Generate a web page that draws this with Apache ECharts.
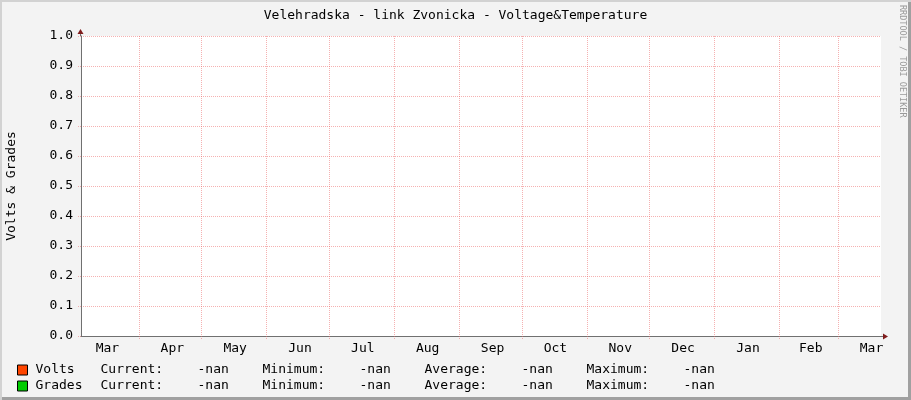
<!DOCTYPE html>
<html><head><meta charset="utf-8">
<script src="https://cdn.jsdelivr.net/npm/echarts@6/dist/echarts.min.js"></script>
<style>
html,body{margin:0;padding:0;background:#f3f3f3}
#c{width:911px;height:400px;background:#f3f3f3;box-shadow:inset 2px 2px 0 #d2d2d2, inset -3px -3px 0 #a0a0a0;}
</style></head><body><div id="c"></div>
<script>
const chartTitle = 'Velehradska - link Zvonicka - Voltage&Temperature';
const yAxisTitle = 'Volts & Grades';
const watermark = 'RRDTOOL / TOBI OETIKER';
const seriesNames = ['Volts', 'Grades'];
const seriesColors = ['#ff4500', '#00cc00'];
const volts = [];   // no data (-nan)
const grades = [];  // no data (-nan)
const statLabels = ['Current:', 'Minimum:', 'Average:', 'Maximum:'];
const voltsStats = ['-nan', '-nan', '-nan', '-nan'];
const gradesStats = ['-nan', '-nan', '-nan', '-nan'];
const yMin = 0, yMax = 1, yStep = 0.1;
const xStart = '2022-03-04T08:00:00Z';
const xEnd = '2023-03-21T12:00:00Z';
const monthBoundaries = ['2022-04-01','2022-05-01','2022-06-01','2022-07-01','2022-08-01','2022-09-01',
  '2022-10-01','2022-11-01','2022-12-01','2023-01-01','2023-02-01','2023-03-01'];
const monthLabels = ['Mar','Apr','May','Jun','Jul','Aug','Sep','Oct','Nov','Dec','Jan','Feb','Mar'];
const monthLabelDates = ['2022-03-16','2022-04-16','2022-05-16','2022-06-16','2022-07-16','2022-08-16',
  '2022-09-16','2022-10-16','2022-11-16','2022-12-16','2023-01-16','2023-02-15','2023-03-16'];

const ts = d => Date.parse(d.length === 10 ? d + 'T00:00:00Z' : d);
const boundaryTs = monthBoundaries.map(ts);
const labelTs = monthLabelDates.map(ts);
const FONT = 'DejaVu Sans Mono';
const gridColor = 'rgba(235,100,100,0.5)';

const chart = echarts.init(document.getElementById('c'));
const statsFor = { Volts: voltsStats, Grades: gradesStats };

chart.setOption({
  animation: false,
  title: {
    text: chartTitle, left: 'center', top: 4,
    textStyle: { fontFamily: FONT, fontSize: 13, fontWeight: 'normal', color: '#000' }
  },
  grid: {
    left: 81, right: 30, top: 36, bottom: 64,
    outerBoundsMode: 'none', containLabel: false,
    show: true, backgroundColor: '#ffffff', borderWidth: 0
  },
  xAxis: {
    type: 'value',
    min: ts(xStart), max: ts(xEnd),
    axisLine: { lineStyle: { color: '#707070', width: 1 } },
    axisTick: { show: true, customValues: boundaryTs, length: 3, lineStyle: { color: gridColor, type: [1, 1] } },
    splitLine: { show: true, lineStyle: { color: gridColor, type: [1, 1], width: 1 } },
    axisLabel: {
      customValues: labelTs, margin: 6, padding: [0, 0, 0, 4],
      fontFamily: FONT, fontSize: 13, color: '#000',
      formatter: v => { const i = labelTs.indexOf(v); return i >= 0 ? monthLabels[i] : ''; }
    }
  },
  yAxis: {
    type: 'value', min: yMin, max: yMax, interval: yStep,
    name: yAxisTitle, nameLocation: 'middle', nameGap: 63,
    nameTextStyle: { fontFamily: FONT, fontSize: 13, color: '#000' },
    axisLine: { show: true, lineStyle: { color: '#707070', width: 1 } },
    axisTick: { show: true, length: 3, lineStyle: { color: gridColor, type: [1, 1] } },
    splitLine: { show: true, lineStyle: { color: gridColor, type: [1, 1], width: 1 } },
    axisLabel: {
      margin: 8, padding: [2, 0, 0, 0], fontFamily: FONT, fontSize: 13, color: '#000',
      formatter: v => v.toFixed(1)
    }
  },
  legend: {
    orient: 'vertical', left: 17, top: 362, padding: 0,
    itemWidth: 10, itemHeight: 10, itemGap: 0,
    icon: 'rect', selectedMode: false,
    itemStyle: { borderColor: '#000', borderWidth: 1 },
    data: seriesNames,
    formatter: name => {
      const st = statsFor[name];
      let s = `{n|${name}}`;
      statLabels.forEach((l, i) => {
        s += `{l|${l}}{v|${st[i]}}` + (i < statLabels.length - 1 ? '{g| }' : '');
      });
      return s;
    },
    textStyle: {
      fontFamily: FONT, fontSize: 13, color: '#000', lineHeight: 16,
      rich: {
        n: { fontFamily: FONT, fontSize: 13, width: 65, padding: [0, 0, 0, 3] },
        l: { fontFamily: FONT, fontSize: 13, width: 97 },
        v: { fontFamily: FONT, fontSize: 13, width: 31 },
        g: { fontFamily: FONT, fontSize: 13, width: 34 }
      }
    }
  },
  series: [
    { name: seriesNames[0], type: 'line', data: volts, color: seriesColors[0], showSymbol: false },
    { name: seriesNames[1], type: 'line', data: grades, color: seriesColors[1], showSymbol: false }
  ]
});

// Decorations: axis arrows and rrdtool watermark
const xr = chart.convertToPixel({ gridIndex: 0 }, [ts(xEnd), yMin]);
const yt = chart.convertToPixel({ gridIndex: 0 }, [ts(xStart), yMax]);
const arrowColor = '#7f1c1c';
chart.setOption({
  graphic: [
    { type: 'line', shape: { x1: xr[0], y1: xr[1] + 0.5, x2: xr[0] + 2, y2: xr[1] + 0.5 }, style: { stroke: '#707070', lineWidth: 1 } },
    { type: 'polygon', shape: { points: [[xr[0] + 2, xr[1] - 2.5], [xr[0] + 2, xr[1] + 3.5], [xr[0] + 7, xr[1] + 0.5]] }, style: { fill: arrowColor } },
    { type: 'line', shape: { x1: yt[0] - 0.5, y1: yt[1], x2: yt[0] - 0.5, y2: yt[1] - 2 }, style: { stroke: '#707070', lineWidth: 1 } },
    { type: 'polygon', shape: { points: [[yt[0] - 3.5, yt[1] - 2], [yt[0] + 2.5, yt[1] - 2], [yt[0] - 0.5, yt[1] - 7]] }, style: { fill: arrowColor } },
    {
      type: 'text', x: 907, y: 5, rotation: -Math.PI / 2,
      style: { text: watermark, fontFamily: FONT, fontSize: 8.5, fill: '#999999', verticalAlign: 'top', align: 'left' }
    }
  ]
});
</script>
</body></html>
